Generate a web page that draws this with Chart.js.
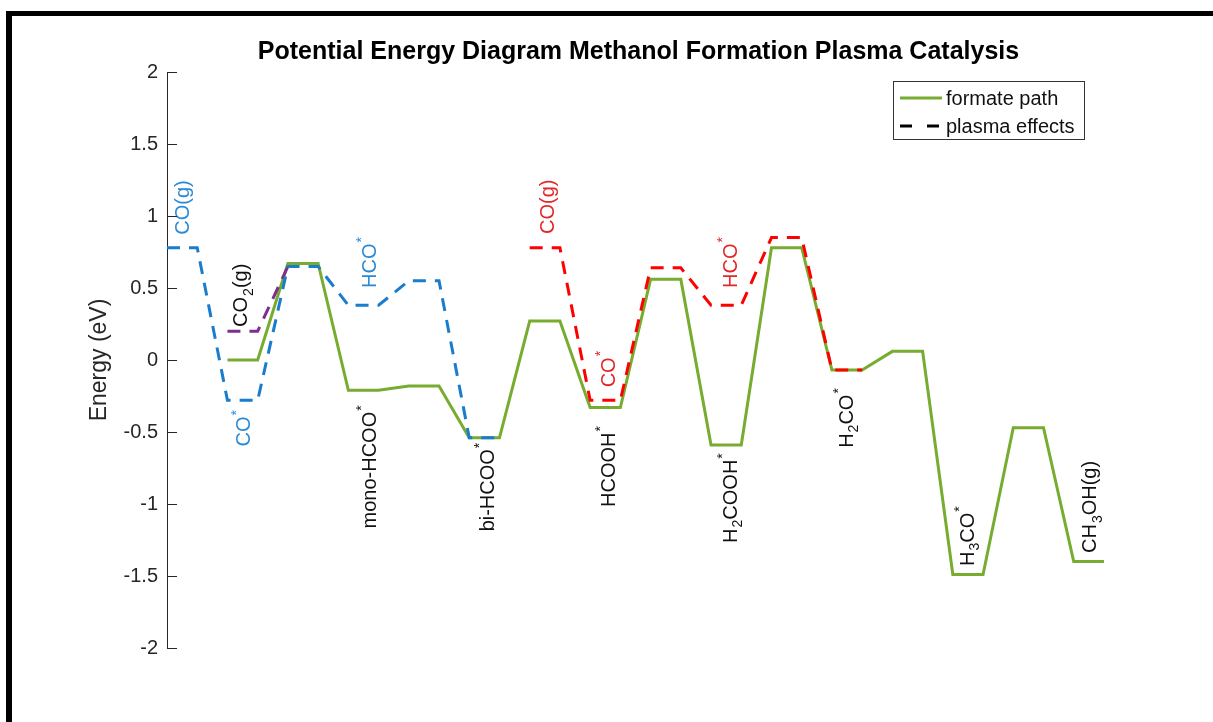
<!DOCTYPE html>
<html>
<head>
<meta charset="utf-8">
<title>Potential Energy Diagram Methanol Formation Plasma Catalysis</title>
<script src="https://cdn.jsdelivr.net/npm/chart.js@4.4.1/dist/chart.umd.min.js"></script>
<style>
  html, body { margin: 0; padding: 0; background: #fff; }
  #chart { display: block; }
</style>
</head>
<body>
<canvas id="chart" width="1213" height="722"></canvas>
<script>
// reaction coordinate (step index) and energy in eV
const formateSteps  = [2, 3, 4, 5, 6, 7, 8, 9, 10, 11, 12, 13, 14, 15, 16, 17, 18, 19, 20, 21, 22, 23, 24, 25, 26, 27, 28, 29, 30, 31];
const formateEnergy = [0, 0, 0.67, 0.67, -0.21, -0.21, -0.18, -0.18, -0.54, -0.54, 0.27, 0.27, -0.33, -0.33, 0.56, 0.56,
                       -0.59, -0.59, 0.78, 0.78, -0.07, -0.07, 0.06, 0.06, -1.49, -1.49, -0.47, -0.47, -1.40, -1.40];

// plasma effects: CO(g) route into bi-HCOO*
const coRouteSteps  = [0, 1, 2, 3, 4, 5, 6, 7, 8, 9, 10, 11];
const coRouteEnergy = [0.78, 0.78, -0.28, -0.28, 0.65, 0.65, 0.38, 0.38, 0.55, 0.55, -0.54, -0.54];

// plasma effects: CO2(g)
const co2Steps  = [2, 3, 4];
const co2Energy = [0.20, 0.20, 0.65];

// plasma effects: CO(g) route into H2CO*
const hcoRouteSteps  = [12, 13, 14, 15, 16, 17, 18, 19, 20, 21, 22, 23];
const hcoRouteEnergy = [0.78, 0.78, -0.28, -0.28, 0.64, 0.64, 0.38, 0.38, 0.85, 0.85, -0.07, -0.07];

const yTicks = [2, 1.5, 1, 0.5, 0, -0.5, -1, -1.5, -2];

// state names, _ = subscript, ^ = superscript
const stateNames = ['CO(g)', 'CO^*', 'CO_2(g)', 'HCO^*', 'mono-HCOO^*', 'bi-HCOO^*', 'CO(g)', 'CO^*',
                    'HCOOH^*', 'HCO^*', 'H_2COOH^*', 'H_2CO^*', 'H_3CO^*', 'CH_3OH(g)'];

const BLUE = '#1a7ccc';
const BLUE_TXT = '#2b8ad6';
const RED = '#ff0000';
const RED_TXT = '#e32626';
const GREEN = '#77ac30';
const PURPLE = '#7e2f8e';
const FONT = "'Liberation Sans', Arial, Helvetica, sans-serif";

// where each name sits (start of the rotated text, in data units)
const namePlaces = [
  { x: 0.56,  y: 0.87,  color: BLUE_TXT },
  { x: 2.58,  y: -0.60, color: BLUE_TXT },
  { x: 2.48,  y: 0.23,  color: '#111' },
  { x: 6.72,  y: 0.50,  color: BLUE_TXT },
  { x: 6.72,  y: -1.17, color: '#111' },
  { x: 10.63, y: -1.19, color: '#111' },
  { x: 12.62, y: 0.875, color: RED_TXT },
  { x: 14.64, y: -0.19, color: RED_TXT },
  { x: 14.64, y: -1.02, color: '#111' },
  { x: 18.68, y: 0.50,  color: RED_TXT },
  { x: 18.68, y: -1.27, color: '#111' },
  { x: 22.5,  y: -0.61, color: '#111' },
  { x: 26.52, y: -1.43, color: '#111' },
  { x: 30.56, y: -1.34, color: '#111' }
];

function pts(xs, ys) {
  return xs.map((x, i) => ({ x: x, y: ys[i] }));
}

function lineSet(label, xs, ys, color, dash) {
  return {
    label: label,
    data: pts(xs, ys),
    borderColor: color,
    backgroundColor: color,
    borderWidth: 3,
    borderDash: dash,
    pointRadius: 0,
    tension: 0,
    fill: false
  };
}

// text with one-char sub/superscripts, drawn rotated 90deg
function drawRich(ctx, str, color) {
  let pos = 0;
  ctx.fillStyle = color;
  ctx.textAlign = 'left';
  ctx.textBaseline = 'middle';
  for (let i = 0; i < str.length; i++) {
    const ch = str[i];
    if ((ch === '_' || ch === '^') && i + 1 < str.length) {
      const c = str[++i];
      ctx.font = '14px ' + FONT;
      ctx.fillText(c, pos + 1, ch === '_' ? 7 : -8);
      pos += ctx.measureText(c).width + 1;
    } else {
      ctx.font = '20px ' + FONT;
      ctx.fillText(ch, pos, 0);
      pos += ctx.measureText(ch).width;
    }
  }
}

const namesPlugin = {
  id: 'stateNames',
  afterDatasetsDraw(chart) {
    const ctx = chart.ctx;
    const xs = chart.scales.x, ys = chart.scales.y;
    stateNames.forEach((name, i) => {
      const p = namePlaces[i];
      ctx.save();
      ctx.translate(xs.getPixelForValue(p.x), ys.getPixelForValue(p.y));
      ctx.rotate(-Math.PI / 2);
      drawRich(ctx, name, p.color);
      ctx.restore();
    });
  }
};

const axisExtras = {
  id: 'axisExtras',
  afterDraw(chart) {
    const ctx = chart.ctx;
    const ys = chart.scales.y;
    const area = chart.chartArea;
    ctx.save();
    // inward tick marks
    ctx.strokeStyle = '#262626';
    ctx.lineWidth = 1;
    ctx.beginPath();
    ys.ticks.forEach(t => {
      const py = Math.round(ys.getPixelForValue(t.value)) + 0.5;
      ctx.moveTo(area.left, py);
      ctx.lineTo(area.left + 10, py);
    });
    ctx.stroke();

    // title
    ctx.fillStyle = '#000';
    ctx.font = 'bold 25px ' + FONT;
    ctx.textAlign = 'center';
    ctx.textBaseline = 'middle';
    ctx.fillText('Potential Energy Diagram Methanol Formation Plasma Catalysis', (area.left + area.right) / 2, 52);

    // legend
    const items = chart.data.datasets.filter(d => d.inLegend);
    ctx.fillStyle = '#fff';
    ctx.fillRect(893, 81, 191, 58);
    ctx.strokeStyle = '#333';
    ctx.strokeRect(893.5, 81.5, 191, 58);
    ctx.font = '20px ' + FONT;
    ctx.textAlign = 'left';
    items.forEach((d, i) => {
      const yy = 98 + i * 28;
      ctx.strokeStyle = d.borderColor;
      ctx.lineWidth = 3;
      ctx.setLineDash(d.borderDash || []);
      ctx.beginPath();
      ctx.moveTo(900, yy);
      ctx.lineTo(942, yy);
      ctx.stroke();
      ctx.setLineDash([]);
      ctx.fillStyle = '#111';
      ctx.fillText(d.label, 946, yy + 1);
    });

    // figure frame
    ctx.fillStyle = '#000';
    ctx.fillRect(6, 11, 1207, 5);
    ctx.fillRect(6, 11, 6, 711);
    ctx.restore();
  }
};

const dash = [13, 9];
const datasets = [
  lineSet('CO route', coRouteSteps, coRouteEnergy, BLUE, dash),
  lineSet('CO2', co2Steps, co2Energy, PURPLE, dash),
  lineSet('HCO route', hcoRouteSteps, hcoRouteEnergy, RED, dash),
  Object.assign(lineSet('formate path', formateSteps, formateEnergy, GREEN, []), { inLegend: true }),
  Object.assign(lineSet('plasma effects', [], [], '#000', [12, 15]), { inLegend: true })
];

new Chart(document.getElementById('chart'), {
  type: 'line',
  data: { datasets: datasets },
  options: {
    responsive: false,
    animation: false,
    devicePixelRatio: 1,
    layout: { padding: { left: 80, right: 103, top: 72, bottom: 74 } },
    plugins: {
      legend: { display: false },
      tooltip: { enabled: false },
      title: { display: false }
    },
    scales: {
      x: {
        type: 'linear',
        min: 0,
        max: 31.2,
        display: false
      },
      y: {
        min: -2,
        max: 2,
        afterBuildTicks: s => { s.ticks = yTicks.map(v => ({ value: v })); },
        afterFit: s => { s.width = 87; },
        grid: { display: false, drawTicks: false },
        border: { display: true, color: '#262626', width: 1 },
        ticks: {
          padding: 9,
          color: '#262626',
          font: { family: FONT, size: 20 },
          callback: v => String(v)
        },
        title: {
          display: true,
          text: 'Energy (eV)',
          color: '#262626',
          font: { family: FONT, size: 23 },
          padding: { top: 6, bottom: 0 }
        }
      }
    }
  },
  plugins: [namesPlugin, axisExtras]
});
</script>
</body>
</html>
